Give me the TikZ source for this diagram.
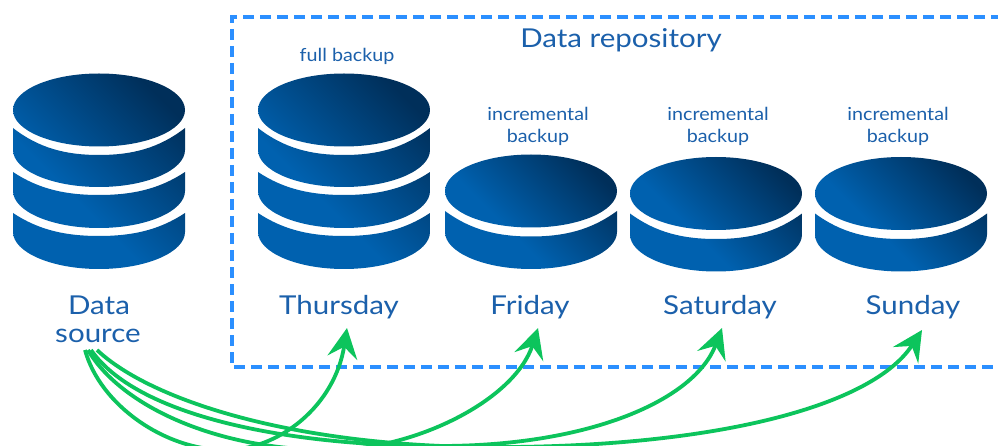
\documentclass[tikz,border=0pt]{standalone}
\usepackage{fontspec}
\newfontfamily\bigfont[FakeStretch=1.135]{Lato}
\newfontfamily\smallfont[FakeStretch=1.095]{Lato}
\usetikzlibrary{arrows.meta}
\definecolor{diskA}{HTML}{0061AF}
\definecolor{diskB}{HTML}{002F5A}
\definecolor{textblue}{HTML}{1B60AB}
\definecolor{dashblue}{HTML}{2B8FFF}
\definecolor{arrowgreen}{HTML}{0CC45C}
\pgfdeclareverticalshading{diskshade}{100bp}{color(0bp)=(diskA); color(40bp)=(diskA); color(76bp)=(diskB); color(100bp)=(diskB)}
\tikzset{
  x=1pt,y=-1pt,
  disk/.style={shading=diskshade,shading angle=-45},
  biglabel/.style={text=textblue,font=\bigfont\fontsize{26}{28}\selectfont,anchor=base,inner sep=0pt},
  smalllabel/.style={text=textblue,font=\smallfont\fontsize{18}{20}\selectfont,anchor=base,inner sep=0pt},
  repobox/.style={draw=dashblue,line width=3.1pt,dash pattern=on 11pt off 6pt},
  flow/.style={draw=arrowgreen,line width=3.8pt,-{Stealth[length=30pt,width=30pt,inset=11pt]}}
}
% top ellipse: cx, cy
\newcommand{\topdisk}[2]{
  ({#1-86},{#2}) .. controls ({#1-86},{#2+20.2}) and ({#1-47.5},{#2+36.5}) .. (#1,{#2+36.5})
  .. controls ({#1+47.5},{#2+36.5}) and ({#1+86},{#2+20.2}) .. ({#1+86},{#2})
  .. controls ({#1+86},{#2-20.2}) and ({#1+47.5},{#2-36.5}) .. (#1,{#2-36.5})
  .. controls ({#1-47.5},{#2-36.5}) and ({#1-86},{#2-20.2}) .. ({#1-86},{#2}) -- cycle
}
% band: cx, y of upper corners, y of upper curve middle, y of lower ellipse centre
\newcommand{\band}[4]{
  ({#1-86},{#2}) -- ({#1-86},{#4}) .. controls ({#1-86},{#4+20.2}) and ({#1-47.5},{#4+37}) .. (#1,{#4+37})
  .. controls ({#1+47.5},{#4+37}) and ({#1+86},{#4+20.2}) .. ({#1+86},{#4})
  -- ({#1+86},{#2}) .. controls ({#1+60},{#2+((#3)-(#2))*0.75}) and ({#1+33},{#3}) .. (#1,{#3})
  .. controls ({#1-33},{#3}) and ({#1-60},{#2+((#3)-(#2))*0.75}) .. ({#1-86},{#2}) -- cycle
}
\newcommand{\tallpile}[1]{
  \begin{scope}
    \clip \topdisk{#1}{110} \band{#1}{128}{155}{150} \band{#1}{172}{195}{191} \band{#1}{213}{236}{232};
    \shade[disk] ({#1-86},73) rectangle ({#1+86},269);
  \end{scope}
}
% cx, cy of top ellipse
\newcommand{\lowpile}[2]{
  \begin{scope}
    \clip \topdisk{#1}{#2} \band{#1}{#2+20}{#2+45.5}{#2+41};
    \shade[disk] ({#1-86},{#2-36.5}) rectangle ({#1+86},{#2+78});
  \end{scope}
}
\begin{document}
\begin{tikzpicture}
\useasboundingbox (0,0) rectangle (998,446);
\clip (0,0) rectangle (998,446);
\fill[white] (0,0) rectangle (998,446);

\draw[repobox] (1002,17) -- (232,17) -- (232,367) -- (1002,367);

\tallpile{99}
\tallpile{344}
\lowpile{531}{191}
\lowpile{716}{193.5}
\lowpile{901}{193.5}

\node[biglabel] (repo) at (621,48) {Data repository};
\node[smalllabel] (full) at (347,62) {full backup};
\node[smalllabel] (incA) at (538,121) {incremental};
\node[smalllabel] (bakA) at (538,143) {backup};
\node[smalllabel] (incB) at (718,121) {incremental};
\node[smalllabel] (bakB) at (718,143) {backup};
\node[smalllabel] (incC) at (898,121) {incremental};
\node[smalllabel] (bakC) at (898,143) {backup};
\node[biglabel] (data) at (99,314) {Data};
\node[biglabel] (src) at (98,342) {source};
\node[biglabel] (thu) at (339,314) {Thursday};
\node[biglabel] (fri) at (530,314) {Friday};
\node[biglabel] (sat) at (720,314) {Saturday};
\node[biglabel] (sun) at (913,314) {Sunday};

\path[flow] ([xshift=-13pt,yshift=-8pt]src.base) .. controls (100,405) and (165,450) .. (225,450)
  .. controls (280,450) and (335,405) .. ([xshift=8pt,yshift=-14pt]thu.base);
\path[flow] ([xshift=-10pt,yshift=-8pt]src.base) .. controls (120,405) and (215,450) .. (330,450)
  .. controls (415,450) and (515,400) .. ([xshift=8pt,yshift=-14pt]fri.base);
\path[flow] ([xshift=-7pt,yshift=-8pt]src.base) .. controls (140,420) and (300,446) .. (440,446)
  .. controls (590,446) and (695,400) .. ([xshift=2pt,yshift=-14pt]sat.base);
\path[flow] ([xshift=-1pt,yshift=-8pt]src.base) .. controls (150,400) and (290,445) .. (480,447)
  .. controls (700,449) and (870,410) .. ([xshift=9pt,yshift=-16pt]sun.base);
\end{tikzpicture}
\end{document}
